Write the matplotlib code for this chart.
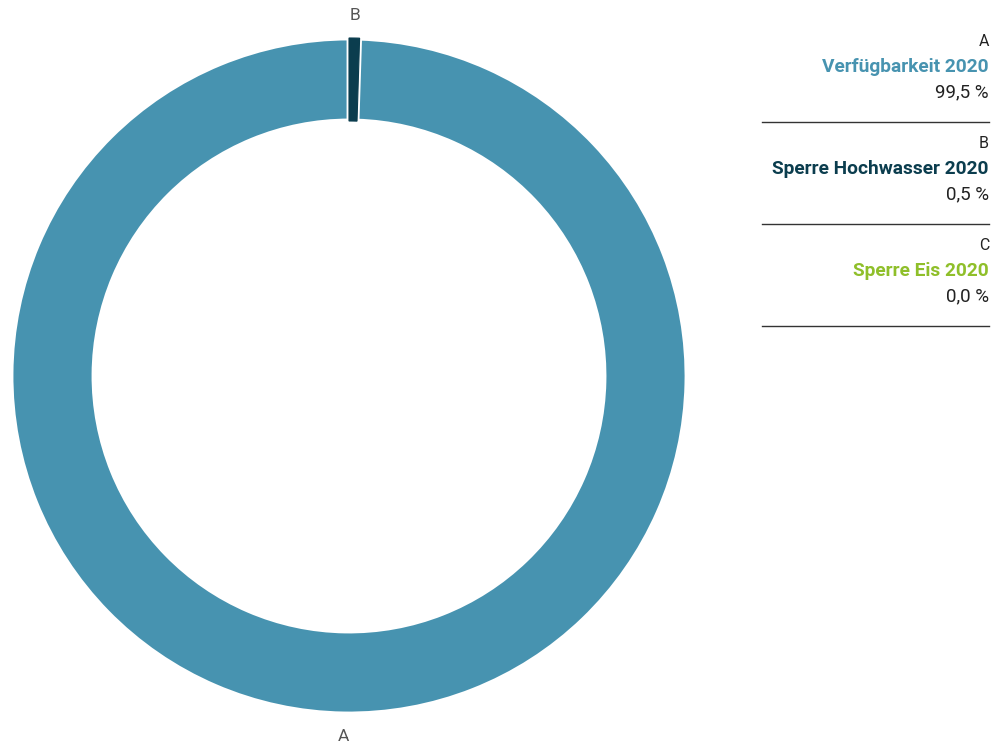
import matplotlib
matplotlib.use("Agg")
import matplotlib.pyplot as plt
import numpy as np

plt.rcParams['font.family'] = ['Roboto', 'DejaVu Sans']

# Share of the year, in percent
letters = ["A", "B", "C"]
names = ["Verfügbarkeit 2020", "Sperre Hochwasser 2020", "Sperre Eis 2020"]
values = [99.5, 0.5, 0.0]
colors = ["#4793b0", "#0b3d4e", "#8fbf2a"]
value_labels = ["99,5 %", "0,5 %", "0,0 %"]

W, H = 1008, 749
fig = plt.figure(figsize=(W / 100, H / 100), dpi=100)

cx, cy, r = 349, 376, 338
ax = fig.add_axes([(cx - r) / W, (H - cy - r) / H, 2 * r / W, 2 * r / H])

# Ring drawn clockwise from the top, starting with B
order = [1, 0]
wedges, _ = ax.pie([values[i] for i in order], colors=[colors[i] for i in order],
                   startangle=90, counterclock=False, radius=1.0,
                   wedgeprops=dict(width=83 / r, edgecolor="white", linewidth=3.5))
for w, i in zip(wedges, order):
    if i == 1:
        # small slice keeps its full width, drawn above the white separators
        w.set_edgecolor(colors[i])
        w.set_linewidth(0.8)
        w.set_zorder(5)
    mid = np.deg2rad((w.theta1 + w.theta2) / 2)
    d = 1.068
    ax.text(d * np.cos(mid), d * np.sin(mid), letters[i], ha="center", va="center",
            fontsize=12.5, color="#555555")
ax.set_xlim(-1, 1)
ax.set_ylim(-1, 1)
ax.set_aspect("equal")
ax.axis("off")

# Legend column on the right
x_right = 989 / W
x_left = 762 / W
for k in range(3):
    top = 42 + k * 102
    fig.text(x_right, 1 - top / H, letters[k], ha="right", va="center",
             fontsize=11.5, color="#222222")
    fig.text(x_right, 1 - (top + 25) / H, names[k], ha="right", va="center",
             fontsize=13.8, fontweight="bold", color=colors[k])
    fig.text(x_right, 1 - (top + 50) / H, value_labels[k], ha="right", va="center",
             fontsize=13.5, color="#222222")
    ly = 1 - (top + 80) / H
    fig.add_artist(plt.Line2D([x_left, x_right], [ly, ly], color="#333333", linewidth=1))

fig.savefig("out.png", dpi=100, facecolor="white")
